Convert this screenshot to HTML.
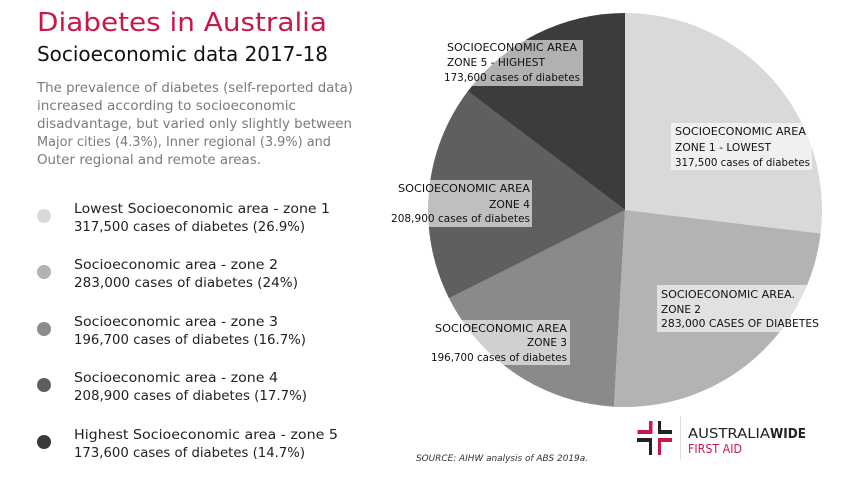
<!DOCTYPE html>
<html><head><meta charset="utf-8"><style>
html,body{margin:0;padding:0;background:#fff;}
svg{display:block;font-family:"DejaVu Sans","Liberation Sans",sans-serif;}
</style></head><body>
<svg width="854" height="480" viewBox="0 0 854 480" xmlns="http://www.w3.org/2000/svg">
<rect width="854" height="480" fill="#fff"/>
<text x="37" y="31" font-size="26" fill="#c8184a" textLength="290" lengthAdjust="spacingAndGlyphs">Diabetes in Australia</text>
<text x="37" y="61" font-size="20" fill="#111" textLength="291" lengthAdjust="spacingAndGlyphs">Socioeconomic data 2017-18</text>
<g font-size="13.5" fill="#7a7a7a">
<text x="37" y="92" textLength="316" lengthAdjust="spacingAndGlyphs">The prevalence of diabetes (self-reported data)</text>
<text x="37" y="110" textLength="259" lengthAdjust="spacingAndGlyphs">increased according to socioeconomic</text>
<text x="37" y="128" textLength="315" lengthAdjust="spacingAndGlyphs">disadvantage, but varied only slightly between</text>
<text x="37" y="146" textLength="294" lengthAdjust="spacingAndGlyphs">Major cities (4.3%), Inner regional (3.9%) and</text>
<text x="37" y="164" textLength="224" lengthAdjust="spacingAndGlyphs">Outer regional and remote areas.</text>
</g>
<g font-size="13.5" fill="#222">
<circle cx="44" cy="216" r="7" fill="#d9d9d9"/>
<text x="74" y="213" textLength="256" lengthAdjust="spacingAndGlyphs">Lowest Socioeconomic area - zone 1</text>
<text x="74" y="231" textLength="231" lengthAdjust="spacingAndGlyphs">317,500 cases of diabetes (26.9%)</text>
<circle cx="44" cy="272" r="7" fill="#b3b3b3"/>
<text x="74" y="269" textLength="204" lengthAdjust="spacingAndGlyphs">Socioeconomic area - zone 2</text>
<text x="74" y="287" textLength="224" lengthAdjust="spacingAndGlyphs">283,000 cases of diabetes (24%)</text>
<circle cx="44" cy="329" r="7" fill="#8c8c8c"/>
<text x="74" y="326" textLength="204" lengthAdjust="spacingAndGlyphs">Socioeconomic area - zone 3</text>
<text x="74" y="344" textLength="232" lengthAdjust="spacingAndGlyphs">196,700 cases of diabetes (16.7%)</text>
<circle cx="44" cy="385" r="7" fill="#5e5e5e"/>
<text x="74" y="382" textLength="204" lengthAdjust="spacingAndGlyphs">Socioeconomic area - zone 4</text>
<text x="74" y="400" textLength="233" lengthAdjust="spacingAndGlyphs">208,900 cases of diabetes (17.7%)</text>
<circle cx="44" cy="442" r="7" fill="#3a3a3a"/>
<text x="74" y="439" textLength="264" lengthAdjust="spacingAndGlyphs">Highest Socioeconomic area - zone 5</text>
<text x="74" y="457" textLength="231" lengthAdjust="spacingAndGlyphs">173,600 cases of diabetes (14.7%)</text>
</g>
<path d="M625,210 L625,13 A197,197 0 0 1 820.6,233.5 Z" fill="#d9d9d9"/>
<path d="M625,210 L820.6,233.5 A197,197 0 0 1 613.9,406.7 Z" fill="#b3b3b3"/>
<path d="M625,210 L613.9,406.7 A197,197 0 0 1 449,298.3 Z" fill="#8a8a8a"/>
<path d="M625,210 L449,298.3 A197,197 0 0 1 467.8,91.2 Z" fill="#5f5f5f"/>
<path d="M625,210 L467.8,91.2 A197,197 0 0 1 625,13 Z" fill="#3c3c3c"/>
<g fill="#fff" fill-opacity="0.6">
<rect x="443" y="40" width="140" height="46"/>
<rect x="671" y="123" width="141" height="47"/>
<rect x="391" y="180" width="141" height="47"/>
<rect x="657" y="285" width="165" height="47"/>
<rect x="429" y="320" width="141" height="45"/>
</g>
<g font-size="10.5" fill="#111">
<text x="447" y="51" textLength="130" lengthAdjust="spacingAndGlyphs">SOCIOECONOMIC AREA</text>
<text x="447" y="66" textLength="98" lengthAdjust="spacingAndGlyphs">ZONE 5 - HIGHEST</text>
<text x="444" y="81" textLength="136" lengthAdjust="spacingAndGlyphs">173,600 cases of diabetes</text>
<text x="675" y="135" textLength="131" lengthAdjust="spacingAndGlyphs">SOCIOECONOMIC AREA</text>
<text x="675" y="151" textLength="96" lengthAdjust="spacingAndGlyphs">ZONE 1 - LOWEST</text>
<text x="675" y="166" textLength="135" lengthAdjust="spacingAndGlyphs">317,500 cases of diabetes</text>
<text x="398" y="192" textLength="132" lengthAdjust="spacingAndGlyphs">SOCIOECONOMIC AREA</text>
<text x="489" y="208" textLength="41" lengthAdjust="spacingAndGlyphs">ZONE 4</text>
<text x="391" y="222" textLength="139" lengthAdjust="spacingAndGlyphs">208,900 cases of diabetes</text>
<text x="661" y="298" textLength="134" lengthAdjust="spacingAndGlyphs">SOCIOECONOMIC AREA.</text>
<text x="661" y="313" textLength="40" lengthAdjust="spacingAndGlyphs">ZONE 2</text>
<text x="661" y="327" textLength="158" lengthAdjust="spacingAndGlyphs">283,000 CASES OF DIABETES</text>
<text x="435" y="332" textLength="132" lengthAdjust="spacingAndGlyphs">SOCIOECONOMIC AREA</text>
<text x="527" y="346" textLength="40" lengthAdjust="spacingAndGlyphs">ZONE 3</text>
<text x="431" y="361" textLength="136" lengthAdjust="spacingAndGlyphs">196,700 cases of diabetes</text>
</g>
<text x="416" y="461" font-size="9" font-style="italic" fill="#333" textLength="172" lengthAdjust="spacingAndGlyphs">SOURCE: AIHW analysis of ABS 2019a.</text>
<g>
<path d="M649,421 h3.5 v13 h-15 v-4 h11.5 z" fill="#c8184a"/>
<path d="M658,421 h3 v9 h11 v4 h-14 z" fill="#222"/>
<path d="M637,438 h15 v17 h-3 v-13 h-12 z" fill="#222"/>
<path d="M658,438 h14 v4 h-11 v13 h-3 z" fill="#c8184a"/>
<rect x="680" y="416" width="1" height="44" fill="#ddd"/>
<text x="688" y="438" font-size="13" fill="#222" textLength="82" lengthAdjust="spacingAndGlyphs">AUSTRALIA</text>
<text x="770" y="438" font-size="13" font-weight="bold" fill="#222" textLength="36" lengthAdjust="spacingAndGlyphs">WIDE</text>
<text x="688" y="453" font-size="12" fill="#c8184a" textLength="54" lengthAdjust="spacingAndGlyphs">FIRST AID</text>
</g>
</svg>
</body></html>
